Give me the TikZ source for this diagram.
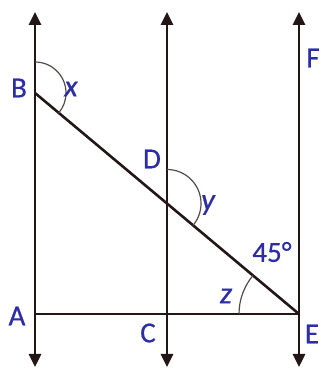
\documentclass[tikz,border=0pt]{standalone}
\usepackage{fontspec}
\setmainfont{Carlito}
\newfontfamily\lblfont[FakeBold=0.6]{Carlito}
\usetikzlibrary{arrows.meta}
\definecolor{lbl}{RGB}{45,45,165}
\definecolor{lnc}{RGB}{35,22,22}
\definecolor{arcc}{RGB}{85,75,75}
\tikzset{
  vline/.style={draw=lnc, line width=2.6pt, {Triangle[length=13pt,width=12pt]}-{Triangle[length=13pt,width=12pt]}},
  seg/.style={draw=lnc, line width=2.6pt},
  angarc/.style={draw=arcc, line width=1.2pt},
  lab/.style={text=lbl, font=\lblfont\fontsize{29}{31}\selectfont, inner sep=0pt},
  ilab/.style={text=lbl, font=\lblfont\fontsize{31}{33}\selectfont\itshape, inner sep=0pt}
}
\begin{document}
\begin{tikzpicture}[x=1pt,y=1pt]
\useasboundingbox (0,0) rectangle (321,372);
\coordinate (Lb) at (35,5);
\coordinate (Lt) at (35,360);
\coordinate (Mb) at (167,5);
\coordinate (Mt) at (167,360);
\coordinate (Rb) at (299,5);
\coordinate (Rt) at (299,360);
\coordinate (B) at (35,279);
\coordinate (A) at (35,58);
\coordinate (C) at (167,58);
\coordinate (E) at (299,58);
\coordinate (D) at (167,168.5);
\draw[vline] (Lb) -- (Lt);
\draw[vline] (Mb) -- (Mt);
\draw[vline] (Rb) -- (Rt);
\draw[seg] (B) -- (E);
\draw[seg] (A) -- (E);
\draw[angarc] (B) ++(90:31) arc[start angle=90, end angle=-39.93, radius=31];
\draw[angarc] (D) ++(90:34) arc[start angle=90, end angle=-39.93, radius=34];
\draw[angarc] (E) ++(180:60) arc[start angle=180, end angle=140.07, radius=60];
\node[lab] (nB) at (19,284) {B};
\node[ilab] (nx) at (71,283) {x};
\node[lab] (nD) at (152,213) {D};
\node[ilab] (ny) at (208,167) {y};
\node[lab] (nF) at (313,314) {F};
\node[lab] (n45) at (272,120) {45°};
\node[ilab] (nz) at (226,76) {z};
\node[lab] (nA) at (17,56) {A};
\node[lab] (nC) at (148,39) {C};
\node[lab] (nE) at (312,38) {E};
\end{tikzpicture}
\end{document}
